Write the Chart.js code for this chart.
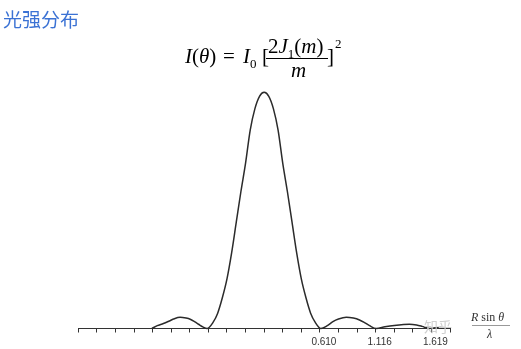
<!DOCTYPE html>
<html><head><meta charset="utf-8">
<script src="https://cdn.jsdelivr.net/npm/chart.js@4"></script>
<style>
html,body{margin:0;padding:0;background:#fff;}
#wrap{position:relative;width:521px;height:349px;overflow:hidden;}
canvas{position:absolute;left:0;top:0;}
.t{position:absolute;white-space:nowrap;line-height:1;}
.f{font-family:"Liberation Serif","DejaVu Serif",serif;color:#000;}
</style></head>
<body><div id="wrap">
<canvas id="c" width="521" height="349"></canvas>
<div class="t" style="left:3px;top:5px;font:19px 'Noto Sans CJK SC',sans-serif;color:#3b72d4;">光强分布</div>
<div class="t f" style="left:185px;top:46px;font-size:21px;"><i>I</i>(<i>θ</i>)</div>
<div class="t f" style="left:223px;top:46px;font-size:21px;">=</div>
<div class="t f" style="left:243px;top:46px;font-size:21px;"><i>I</i><span style="font-size:13px;position:relative;top:5px;">0</span></div>
<div class="t f" style="left:262px;top:46px;font-size:21px;">[</div>
<div class="t f" style="left:268px;top:36px;font-size:21px;">2<i>J</i><span style="font-size:13px;position:relative;top:5px;">1</span>(<i>m</i>)</div>
<div style="position:absolute;left:266px;top:58px;width:62px;height:1px;background:#000;"></div>
<div class="t f" style="left:291px;top:60px;font-size:21px;"><i>m</i></div>
<div class="t f" style="left:327px;top:46px;font-size:21px;">]</div>
<div class="t f" style="left:335px;top:37px;font-size:13px;">2</div>
<div class="t" style="left:424px;top:316px;font:14px 'Noto Sans CJK SC',sans-serif;color:#cfcfcf;">知乎</div>
<div class="t f" style="left:471px;top:311px;font-size:12px;color:#333;"><i>R</i> sin <i>θ</i></div>
<div style="position:absolute;left:472px;top:325px;width:38px;height:1px;background:#999;"></div>
<div class="t f" style="left:487px;top:328px;font-size:12px;color:#333;"><i>λ</i></div>
</div>
<script>
// abscissa in tick units (one tick = one division of the drawn axis)
const positions = [-6.04,-5.75,-5.42,-5.1,-4.88,-4.52,-4.2,-3.98,-3.75,-3.53,-3.3,-3.07,
 -2.75,-2.5,-2.25,-2,-1.75,-1.5,-1.25,-1,-0.75,-0.5,-0.25,0,0.25,0.5,0.75,1,1.25,1.5,1.75,2,2.25,2.5,2.75,3.05,
 3.4,3.7,4.0,4.42,4.8,5.13,5.4,5.67,6.03,
 6.5,7.0,7.5,7.81,8.2,8.5,8.88,9.2,9.5,9.9];
// relative intensity I/I0
const intensity = [0,0.012,0.021,0.032,0.040,0.0475,0.044,0.039,0.029,0.018,0.007,0,
 0.026,0.065,0.13,0.21,0.32,0.45,0.58,0.70,0.84,0.93,0.983,1,0.983,0.93,0.84,0.70,0.58,0.45,0.32,0.21,0.13,0.065,0.026,0,
 0.012,0.029,0.04,0.0475,0.044,0.036,0.025,0.012,0,
 0.007,0.013,0.017,0.018,0.015,0.009,0,0.003,0.004,0.002];
const tickLabelAt = [3,6,9];
const tickLabels = ['0.610','1.116','1.619'];
const axisMin = -10, axisMax = 10;

const pts = positions.map((x,i)=>({x:x,y:intensity[i]}));
new Chart(document.getElementById('c'),{
  type:'line',
  data:{datasets:[{data:pts,borderColor:'#2b2b2b',borderWidth:1.5,pointRadius:0,
    cubicInterpolationMode:'monotone',fill:false,clip:false}]},
  options:{
    responsive:false,animation:false,devicePixelRatio:1,
    layout:{padding:{left:78.3,right:71,top:92.3,bottom:0}},
    plugins:{legend:{display:false},tooltip:{enabled:false}},
    scales:{
      x:{type:'linear',min:axisMin,max:axisMax,
        afterFit:(s)=>{s.height=20.5;},
        afterBuildTicks:(s)=>{const t=[];for(let v=axisMin;v<=axisMax;v++)t.push({value:v});s.ticks=t;},
        ticks:{autoSkip:false,maxRotation:0,labelOffset:4,padding:4,color:'#333',
          font:{family:"'Liberation Sans','DejaVu Sans',sans-serif",size:10},
          callback:(v)=>{const k=tickLabelAt.indexOf(v);return k>=0?tickLabels[k]:'';}},
        grid:{drawOnChartArea:false,drawTicks:true,tickLength:4,color:'#333'},
        border:{display:true,color:'#333',width:1}},
      y:{display:false,min:0,max:1}
    }
  }
});
</script>
</body></html>
